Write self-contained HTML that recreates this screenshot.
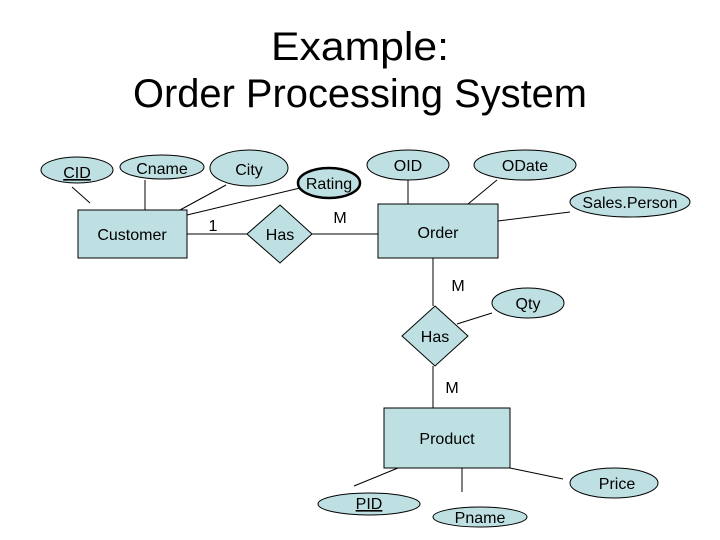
<!DOCTYPE html>
<html><head><style>body{margin:0;background:#fff}svg{display:block}</style></head><body>
<svg width="720" height="540" viewBox="0 0 720 540" xmlns="http://www.w3.org/2000/svg" font-family="Liberation Sans, Arial, sans-serif">
<text x="360" y="60" font-size="40" text-anchor="middle" textLength="178" lengthAdjust="spacingAndGlyphs">Example:</text>
<text x="360" y="107" font-size="40" text-anchor="middle" textLength="454" lengthAdjust="spacingAndGlyphs">Order Processing System</text>
<g stroke="#000" stroke-width="1" fill="none">
<line x1="72" y1="187" x2="90" y2="203"/>
<line x1="145" y1="180" x2="145" y2="210"/>
<line x1="226" y1="185" x2="180" y2="210"/>
<line x1="300" y1="188" x2="187" y2="215"/>
<line x1="187" y1="234" x2="247" y2="234"/>
<line x1="312" y1="234" x2="378" y2="234"/>
<line x1="408" y1="180" x2="408" y2="204"/>
<line x1="497" y1="180" x2="468" y2="204"/>
<line x1="498" y1="221" x2="570" y2="212"/>
<line x1="433" y1="258" x2="433" y2="306"/>
<line x1="457" y1="324" x2="492" y2="313"/>
<line x1="433" y1="366" x2="433" y2="408"/>
<line x1="398" y1="468" x2="354" y2="486"/>
<line x1="462" y1="468" x2="462" y2="492"/>
<line x1="510" y1="468" x2="563" y2="479"/>
</g>
<g fill="#bfe0e2" stroke="#000" stroke-width="1">
<ellipse cx="77" cy="170" rx="36" ry="13"/>
<ellipse cx="162" cy="167" rx="42" ry="12"/>
<ellipse cx="249" cy="168" rx="39" ry="18"/>
<ellipse cx="329" cy="183" rx="31" ry="15" stroke-width="2.5"/>
<rect x="78" y="210" width="109" height="48"/>
<polygon points="280,205 312,234 280,263 247,234"/>
<ellipse cx="408" cy="165" rx="41" ry="15"/>
<ellipse cx="525" cy="165" rx="51" ry="15"/>
<ellipse cx="630" cy="202" rx="60" ry="15"/>
<rect x="378" y="204" width="120" height="54"/>
<polygon points="435,306 468,336 435,366 402,336"/>
<ellipse cx="528" cy="303" rx="36" ry="15"/>
<rect x="384" y="408" width="126" height="60"/>
<ellipse cx="369" cy="504" rx="51" ry="11"/>
<ellipse cx="480" cy="517" rx="47" ry="10"/>
<ellipse cx="614" cy="483" rx="44" ry="15"/>
</g>
<g font-size="16" text-anchor="middle" fill="#000">
<text x="77" y="178" text-decoration="underline">CID</text>
<text x="162" y="174">Cname</text>
<text x="249" y="175">City</text>
<text x="329" y="189">Rating</text>
<text x="132" y="240">Customer</text>
<text x="280" y="240">Has</text>
<text x="213" y="231">1</text>
<text x="340" y="223">M</text>
<text x="408" y="171">OID</text>
<text x="525" y="171">ODate</text>
<text x="630" y="208">Sales.Person</text>
<text x="438" y="238">Order</text>
<text x="458" y="291">M</text>
<text x="435" y="342">Has</text>
<text x="528" y="309">Qty</text>
<text x="452" y="393">M</text>
<text x="447" y="444">Product</text>
<text x="369" y="509" text-decoration="underline">PID</text>
<text x="480" y="523">Pname</text>
<text x="617" y="489">Price</text>
</g>
</svg>
</body></html>
